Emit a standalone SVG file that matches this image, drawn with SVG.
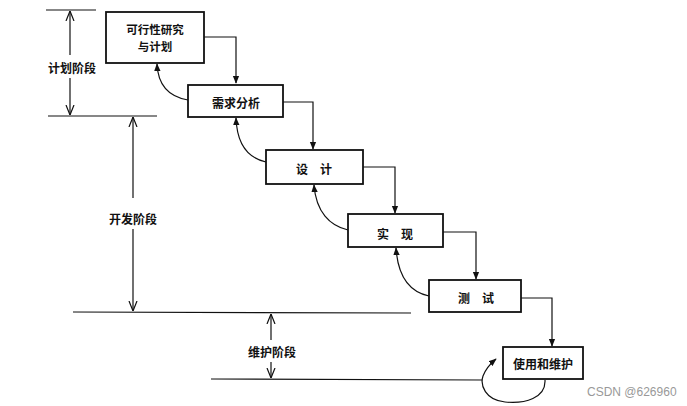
<svg xmlns="http://www.w3.org/2000/svg" width="687" height="406" viewBox="0 0 687 406">
<style>
.box{fill:#fff;stroke:#111;stroke-width:1.8}
.c{fill:none;stroke:#111;stroke-width:1.2}
.ph{fill:none;stroke:#111;stroke-width:1.2}
.t{font-family:"Noto Sans CJK SC","Noto Sans",sans-serif;font-size:12px;font-weight:bold;fill:#111;text-anchor:middle;dominant-baseline:central}
.s{font-size:11.5px}
.wm{font-family:"Liberation Sans",Arial,sans-serif;font-size:12px;fill:#999;text-anchor:start;dominant-baseline:central}
</style>
<defs>
<marker id="a" viewBox="0 0 10 10" refX="9" refY="5" markerWidth="8" markerHeight="8" markerUnits="userSpaceOnUse" orient="auto">
<path d="M0,1 L10,5 L0,9 Z" fill="#111"/>
</marker>
<marker id="v" viewBox="0 0 10 10" refX="10" refY="5" markerWidth="10" markerHeight="10" markerUnits="userSpaceOnUse" orient="auto">
<path d="M0,1 L10,5 L0,9" fill="none" stroke="#111" stroke-width="1.2"/>
</marker>
</defs>
<g id="phases">
<line class="ph" x1="46" y1="10" x2="96" y2="10"/>
<line class="ph" x1="48" y1="116" x2="157" y2="116"/>
<line class="ph" x1="73" y1="312" x2="411" y2="313"/>
<line class="ph" x1="211" y1="379" x2="482" y2="380"/>
<line class="ph" x1="70" y1="55" x2="70" y2="11" marker-end="url(#v)"/>
<line class="ph" x1="70" y1="78" x2="70" y2="115" marker-end="url(#v)"/>
<text class="t" x="72" y="67">计划阶段</text>
<line class="ph" x1="133" y1="198" x2="133" y2="117" marker-end="url(#v)"/>
<line class="ph" x1="133" y1="229" x2="133" y2="311" marker-end="url(#v)"/>
<text class="t" x="133" y="218">开发阶段</text>
<line class="ph" x1="271" y1="340" x2="271" y2="314" marker-end="url(#v)"/>
<line class="ph" x1="271" y1="362" x2="271" y2="378" marker-end="url(#v)"/>
<text class="t" x="272" y="351">维护阶段</text>
</g>
<g id="connectors">
<path class="c" d="M204,37 H236 V83" marker-end="url(#a)"/>
<path class="c" d="M283,102 H313 V149" marker-end="url(#a)"/>
<path class="c" d="M363,167 H395 V213" marker-end="url(#a)"/>
<path class="c" d="M443,232 H476 V279" marker-end="url(#a)"/>
<path class="c" d="M521,298 H552 V346" marker-end="url(#a)"/>
<path class="c" d="M188,100 C170,97 158,86 157,64" marker-end="url(#a)"/>
<path class="c" d="M266,162 C248,158 237,145 236,118" marker-end="url(#a)"/>
<path class="c" d="M348,230 C330,226 316,212 314,185" marker-end="url(#a)"/>
<path class="c" d="M429,296 C410,292 398,278 396,248" marker-end="url(#a)"/>
<path class="c" d="M545,380 C546,398 525,404 505,402 C485,400 480,385 483,376 C486,368 490,364 496,359" marker-end="url(#a)"/>
</g>
<g id="n1">
<rect class="box" x="106" y="12" width="98" height="51"/>
<text class="t s" x="155" y="29">可行性研究</text>
<text class="t s" x="155" y="46">与计划</text>
</g>
<g id="n2">
<rect class="box" x="188" y="85" width="95" height="32"/>
<text class="t" x="236" y="102">需求分析</text>
</g>
<g id="n3">
<rect class="box" x="266" y="150" width="97" height="34"/>
<text class="t" x="314" y="168">设　计</text>
</g>
<g id="n4">
<rect class="box" x="348" y="214" width="95" height="33"/>
<text class="t" x="395" y="233">实　现</text>
</g>
<g id="n5">
<rect class="box" x="429" y="280" width="92" height="32"/>
<text class="t" x="476" y="297">测　试</text>
</g>
<g id="n6">
<rect class="box" x="503" y="347" width="80" height="32"/>
<text class="t" x="543" y="363">使用和维护</text>
</g>
<text class="wm" x="587" y="392">CSDN @626960</text>
</svg>
